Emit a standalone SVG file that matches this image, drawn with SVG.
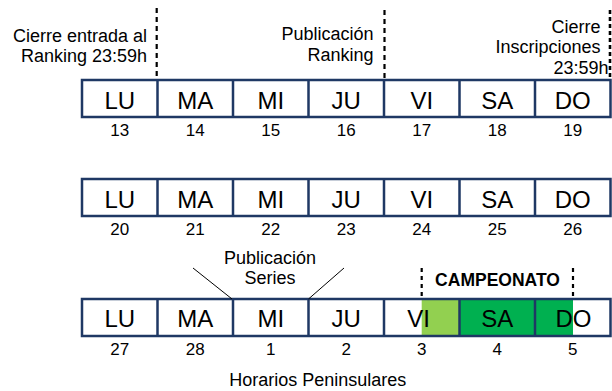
<svg xmlns="http://www.w3.org/2000/svg" width="612" height="391" viewBox="0 0 612 391">
<style>
.cell{fill:none;stroke:#1F3864;stroke-width:2.5}
.day{font-family:"Liberation Sans",Arial,sans-serif;font-size:24px;text-anchor:middle;fill:#000}
.num{font-family:"Liberation Sans",Arial,sans-serif;font-size:17px;text-anchor:middle;fill:#000}
.lbl{font-family:"Liberation Sans",Arial,sans-serif;font-size:18px;fill:#000}
.r{text-anchor:end}
.m{text-anchor:middle}
.b{font-weight:bold;font-size:17.5px}
.dash{stroke:#000;stroke-width:2.2;stroke-dasharray:5 4;fill:none}
.thin{stroke:#000;stroke-width:1;fill:none}
</style>
<rect width="612" height="391" fill="#fff"/>

<g id="week1">
<rect class="cell" x="82" y="80" width="528.5" height="37"/>
<path class="cell" d="M157.5 80V117M233 80V117M308.5 80V117M384 80V117M459.5 80V117M535 80V117"/>
<text class="day" x="119.75" y="109">LU</text>
<text class="day" x="195.25" y="109">MA</text>
<text class="day" x="270.75" y="109">MI</text>
<text class="day" x="346.25" y="109">JU</text>
<text class="day" x="421.75" y="109">VI</text>
<text class="day" x="497.25" y="109">SA</text>
<text class="day" x="572.75" y="109">DO</text>
<text class="num" x="119.75" y="136">13</text>
<text class="num" x="195.25" y="136">14</text>
<text class="num" x="270.75" y="136">15</text>
<text class="num" x="346.25" y="136">16</text>
<text class="num" x="421.75" y="136">17</text>
<text class="num" x="497.25" y="136">18</text>
<text class="num" x="572.75" y="136">19</text>
</g>

<g id="week2">
<rect class="cell" x="82" y="179" width="528.5" height="37"/>
<path class="cell" d="M157.5 179V216M233 179V216M308.5 179V216M384 179V216M459.5 179V216M535 179V216"/>
<text class="day" x="119.75" y="208">LU</text>
<text class="day" x="195.25" y="208">MA</text>
<text class="day" x="270.75" y="208">MI</text>
<text class="day" x="346.25" y="208">JU</text>
<text class="day" x="421.75" y="208">VI</text>
<text class="day" x="497.25" y="208">SA</text>
<text class="day" x="572.75" y="208">DO</text>
<text class="num" x="119.75" y="235">20</text>
<text class="num" x="195.25" y="235">21</text>
<text class="num" x="270.75" y="235">22</text>
<text class="num" x="346.25" y="235">23</text>
<text class="num" x="421.75" y="235">24</text>
<text class="num" x="497.25" y="235">25</text>
<text class="num" x="572.75" y="235">26</text>
</g>

<g id="week3">
<rect x="421.7" y="299" width="37.8" height="37" fill="#92D050"/>
<rect x="459.5" y="299" width="113.5" height="37" fill="#00B050"/>
<rect class="cell" x="82" y="299" width="528.5" height="37"/>
<path class="cell" d="M157.5 299V336M233 299V336M308.5 299V336M384 299V336M459.5 299V336M535 299V336"/>
<text class="day" x="119.75" y="327">LU</text>
<text class="day" x="195.25" y="327">MA</text>
<text class="day" x="270.75" y="327">MI</text>
<text class="day" x="346.25" y="327">JU</text>
<text class="day" x="418.5" y="327">VI</text>
<text class="day" x="573.5" y="327">DO</text>
<text class="day" x="497.25" y="327">SA</text>
<text class="num" x="119.75" y="355">27</text>
<text class="num" x="195.25" y="355">28</text>
<text class="num" x="270.75" y="355">1</text>
<text class="num" x="346.25" y="355">2</text>
<text class="num" x="421.75" y="355">3</text>
<text class="num" x="497.25" y="355">4</text>
<text class="num" x="572.75" y="355">5</text>
</g>

<g id="label-cierre-ranking">
<text class="lbl r" x="147" y="41.5">Cierre entrada al</text>
<text class="lbl r" x="147" y="61.5">Ranking 23:59h</text>
</g>
<g id="label-publicacion-ranking">
<text class="lbl r" x="373.5" y="39.5">Publicación</text>
<text class="lbl r" x="373.5" y="60.5">Ranking</text>
</g>
<g id="label-cierre-inscripciones">
<text class="lbl r" x="600.5" y="32.5">Cierre</text>
<text class="lbl r" x="600.5" y="53">Inscripciones</text>
<text class="lbl r" x="608.5" y="74">23:59h</text>
</g>
<g id="label-publicacion-series">
<text class="lbl m" x="270" y="263.5">Publicación</text>
<text class="lbl m" x="270" y="283.5">Series</text>
</g>
<g id="label-campeonato">
<text class="lbl m b" x="497.5" y="285.7">CAMPEONATO</text>
</g>
<g id="title">
<text class="lbl m" x="317.7" y="385.7">Horarios Peninsulares</text>
</g>

<g id="connectors">
<line class="dash" x1="156.7" y1="8" x2="156.7" y2="80"/>
<line class="dash" x1="384.5" y1="10" x2="384.5" y2="80"/>
<line class="dash" x1="610" y1="10" x2="610" y2="80" style="stroke-width:2.6;stroke-dasharray:4 3"/>
<line class="dash" x1="421.7" y1="268" x2="421.7" y2="298" style="stroke-dasharray:4 4"/>
<line class="dash" x1="573" y1="268" x2="573" y2="298" style="stroke-dasharray:4 4"/>
<line class="thin" x1="193" y1="268" x2="232" y2="299"/>
<line class="thin" x1="344" y1="268" x2="308.5" y2="299"/>
</g>
</svg>
